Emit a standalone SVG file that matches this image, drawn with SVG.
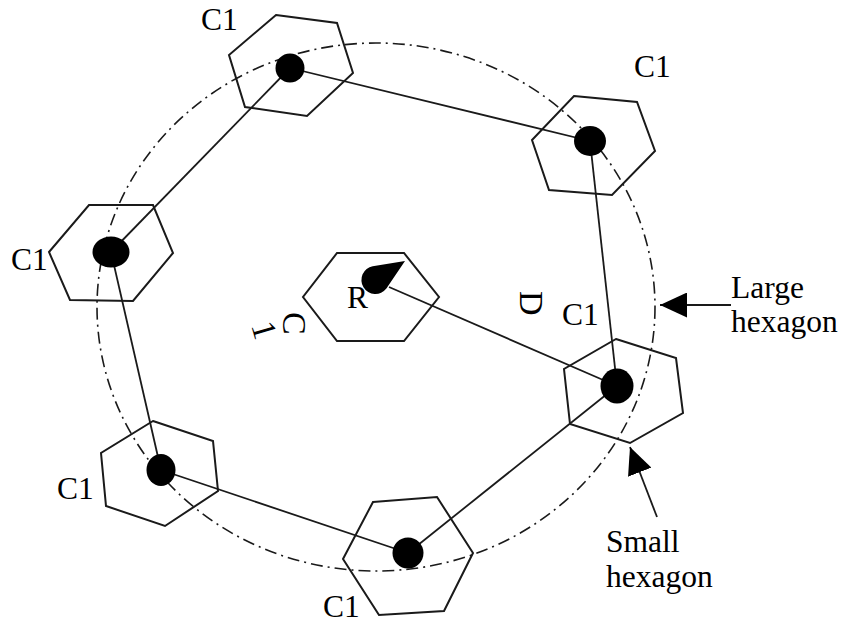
<svg xmlns="http://www.w3.org/2000/svg" width="846" height="624" viewBox="0 0 846 624">
  <style>
    .hex { fill: none; stroke: #1a1a1a; stroke-width: 2; stroke-linejoin: miter; }
    .dot { fill: #000; }
    .link { fill: none; stroke: #1a1a1a; stroke-width: 1.8; }
    .ring { fill: none; stroke: #1a1a1a; stroke-width: 1.6; stroke-dasharray: 12 5 2 5; }
    .lbl { font-family: "Liberation Serif", "Times New Roman", serif; font-size: 31.5px; fill: #000; }
    .rot { font-family: "Liberation Serif", "Times New Roman", serif; font-size: 34px; fill: #000; }
  </style>
  <defs>
    <marker id="tri" markerUnits="userSpaceOnUse" viewBox="0 0 27 25" refX="27" refY="12.5" markerWidth="27" markerHeight="25" orient="auto">
      <path d="M0,0 L27,12.5 L0,25 Z" fill="#000"/>
    </marker>
  </defs>

  <rect width="846" height="624" fill="#fff"/>

  <!-- large hexagon boundary (dash-dot ring) -->
  <ellipse class="ring" cx="376" cy="307" rx="279" ry="264"/>

  <!-- connectors -->
  <g id="connectors">
    <line class="link" x1="290" y1="68" x2="590" y2="141"/>
    <line class="link" x1="290" y1="68" x2="111" y2="252"/>
    <line class="link" x1="590" y1="141" x2="617" y2="386"/>
    <line class="link" x1="111" y1="252" x2="161" y2="470"/>
    <line class="link" x1="161" y1="470" x2="408" y2="553"/>
    <line class="link" x1="408" y1="553" x2="617" y2="386"/>
    <line class="link" x1="389" y1="287" x2="617" y2="386"/>
    <!-- pointers to the legend labels -->
    <line class="link" x1="731" y1="305" x2="660" y2="305" marker-end="url(#tri)"/>
    <line class="link" x1="657" y1="517" x2="630" y2="447" marker-end="url(#tri)"/>
  </g>

  <!-- cells -->
  <g id="cell-top">
    <polygon class="hex" points="276,15 337,23 353,73 307,116 245,107 229,55"/>
    <circle class="dot" cx="290" cy="68" r="14.5"/>
    <text class="lbl" x="201" y="30">C1</text>
  </g>

  <g id="cell-top-right">
    <polygon class="hex" points="574,96 637,102 655,151 612,195 549,190 532,140"/>
    <ellipse class="dot" cx="590" cy="141" rx="16" ry="15"/>
    <text class="lbl" x="634" y="77">C1</text>
  </g>

  <g id="cell-left">
    <polygon class="hex" points="89,205 153,205 173,253 133,301 70,300 49,252"/>
    <ellipse class="dot" cx="111" cy="252" rx="18.5" ry="15.5"/>
    <text class="lbl" x="11" y="270">C1</text>
  </g>

  <g id="cell-bottom-left">
    <polygon class="hex" points="153,421 213,441 218,491 165,526 106,506 101,453"/>
    <ellipse class="dot" cx="161" cy="470" rx="14.5" ry="16"/>
    <text class="lbl" x="57" y="499">C1</text>
  </g>

  <g id="cell-bottom">
    <polygon class="hex" points="373,502 437,497 473,553 444,611 379,615 343,559"/>
    <circle class="dot" cx="408" cy="553" r="15.5"/>
    <text class="lbl" x="323" y="617">C1</text>
  </g>

  <g id="cell-right">
    <polygon class="hex" points="616,339 676,358 683,413 630,443 570,424 564,369"/>
    <ellipse class="dot" cx="617" cy="386" rx="16.5" ry="17.5"/>
    <text class="lbl" x="562" y="325">C1</text>
  </g>

  <g id="cell-centre">
    <polygon class="hex" points="337,253 404,253 439,297 404,341 337,341 303,297"/>
    <path class="dot" d="M405,261 L386.4,288.6 A14,14 0 1 1 372.7,266.2 Z"/>
    <text class="lbl" x="347" y="308">R</text>
  </g>

  <!-- rotated annotations -->
  <g id="label-c1-rotated">
    <text class="rot" transform="translate(283,312) rotate(90)">C</text>
    <text class="rot" transform="translate(251,325) rotate(74)">1</text>
  </g>
  <g id="label-d">
    <text class="rot" transform="translate(520,291) rotate(90)">D</text>
  </g>

  <!-- legend -->
  <g id="legend-large">
    <text class="lbl" x="731" y="298">Large</text>
    <text class="lbl" x="731" y="332">hexagon</text>
  </g>
  <g id="legend-small">
    <text class="lbl" x="606" y="552">Small</text>
    <text class="lbl" x="606" y="587">hexagon</text>
  </g>
</svg>
